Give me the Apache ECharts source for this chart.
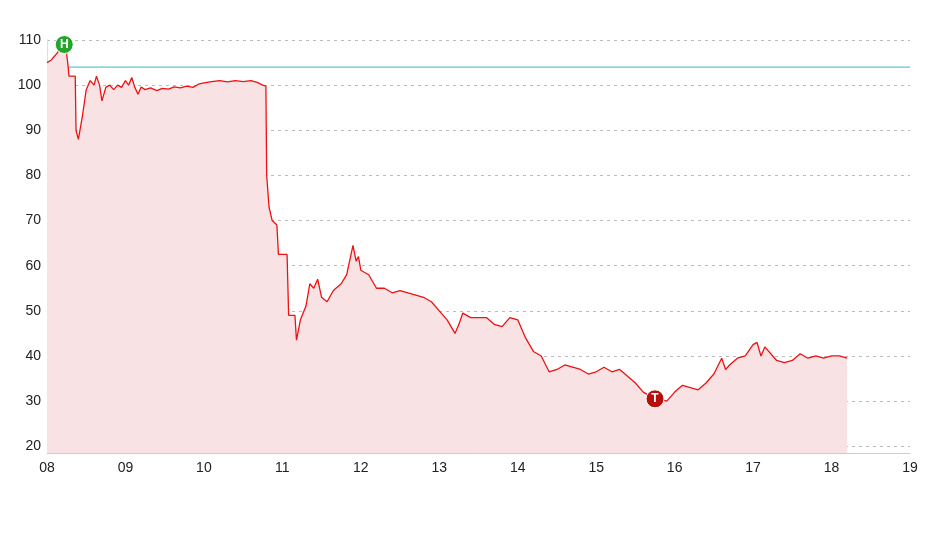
<!DOCTYPE html>
<html>
<head>
<meta charset="utf-8">
<script src="https://cdn.jsdelivr.net/npm/echarts@6/dist/echarts.min.js"></script>
<style>html,body{margin:0;padding:0;background:#fff}#chart{width:948px;height:533px}</style>
</head>
<body>
<div id="chart"></div>
<script>
// 年份（小数）与价格
var years = [2008.00,2008.05,2008.10,2008.17,2008.22,2008.25,2008.27,2008.28,2008.36,2008.37,2008.40,2008.45,2008.50,2008.55,2008.60,2008.63,2008.67,2008.70,2008.75,2008.80,2008.85,2008.90,2008.95,2009.00,2009.04,2009.08,2009.12,2009.16,2009.20,2009.25,2009.32,2009.40,2009.47,2009.55,2009.62,2009.70,2009.78,2009.86,2009.93,2010.00,2010.10,2010.20,2010.30,2010.40,2010.50,2010.60,2010.68,2010.75,2010.79,2010.80,2010.83,2010.87,2010.93,2010.95,2011.06,2011.08,2011.16,2011.18,2011.23,2011.30,2011.35,2011.40,2011.45,2011.50,2011.57,2011.65,2011.75,2011.82,2011.90,2011.94,2011.97,2012.00,2012.10,2012.20,2012.30,2012.40,2012.50,2012.60,2012.80,2012.90,2013.00,2013.10,2013.20,2013.25,2013.30,2013.40,2013.60,2013.70,2013.80,2013.90,2014.00,2014.10,2014.20,2014.30,2014.40,2014.50,2014.60,2014.70,2014.80,2014.90,2015.00,2015.10,2015.20,2015.30,2015.40,2015.50,2015.60,2015.70,2015.75,2015.80,2015.90,2016.00,2016.10,2016.20,2016.30,2016.40,2016.50,2016.60,2016.65,2016.70,2016.80,2016.90,2017.00,2017.05,2017.10,2017.15,2017.30,2017.40,2017.50,2017.60,2017.70,2017.80,2017.90,2018.00,2018.10,2018.20];
var prices = [105,105.5,106.5,108,109,107,104,102,102,90,88,93,99,101,100,102,100,96.5,99.5,100,99,100,99.5,101,100,101.7,99.5,98,99.6,99,99.4,98.8,99.3,99.1,99.6,99.4,99.8,99.5,100.2,100.5,100.8,101,100.7,101,100.8,101,100.6,100,99.8,80,73,70,69,62.5,62.5,49,49,43.5,48,51,56,55,57,53,52,54.5,56,58,64.5,61,62,59,58,55,55,54,54.5,54,53,52,50,48,45,47,49.5,48.5,48.5,47,46.5,48.5,48,44,41,40,36.5,37,38,37.5,37,36,36.5,37.5,36.5,37,35.5,34,32,31,30.5,30.5,30,32,33.5,33,32.5,34,36,39.5,37,38,39.5,40,42.5,43,40,42,39,38.5,39,40.5,39.5,40,39.5,40,40,39.5];
var yearTicks = ['08','09','10','11','12','13','14','15','16','17','18','19'];
var refLevel = 104;
var refSpan = [2008, 2019];

var chart = echarts.init(document.getElementById('chart'));
var seriesData = years.map(function (y, i) { return [y, prices[i]]; });

chart.setOption({
    animation: false,
    grid: { left: 47, right: 38, top: 40, bottom: 80 },
    xAxis: {
        type: 'value', min: 2008, max: 2019, interval: 1,
        axisLine: { lineStyle: { color: '#ccc' } },
        axisTick: { show: false },
        splitLine: { show: false },
        axisLabel: {
            color: '#222', fontSize: 14, fontFamily: 'Liberation Sans', margin: 8,
            formatter: function (v) { return yearTicks[Math.round(v - 2008)]; }
        }
    },
    yAxis: {
        type: 'value', min: 18.5, max: 110, splitNumber: 9,
        axisLine: { show: true, lineStyle: { color: '#ddd' } },
        axisTick: { show: false },
        axisLabel: { showMinLabel: false, color: '#222', fontSize: 14, fontFamily: 'Liberation Sans', margin: 6 },
        splitLine: { lineStyle: { color: '#bbb', type: [3, 4] } }
    },
    series: [{
        type: 'line',
        data: seriesData,
        symbol: 'none',
        lineStyle: { color: '#ee1111', width: 1.3 },
        areaStyle: { color: '#f9e2e3', opacity: 1 },
        markPoint: {
            symbol: 'circle', symbolSize: 18,
            label: { color: '#fff', fontWeight: 'bold', fontSize: 12, fontFamily: 'Liberation Sans' },
            data: [
                { coord: [2008.22, 109], value: 'H', itemStyle: { color: '#22a52a', borderColor: '#fff', borderWidth: 1 } },
                { coord: [2015.75, 30.5], value: 'T', itemStyle: { color: '#b80e0e', borderColor: '#fff', borderWidth: 1 } }
            ]
        }
    }, {
        // 参考线
        type: 'line',
        data: refSpan.map(function (x) { return [x, refLevel]; }),
        symbol: 'none', silent: true, z: 1,
        lineStyle: { color: '#38b6c4', width: 1 }
    }]
});
</script>
</body>
</html>
